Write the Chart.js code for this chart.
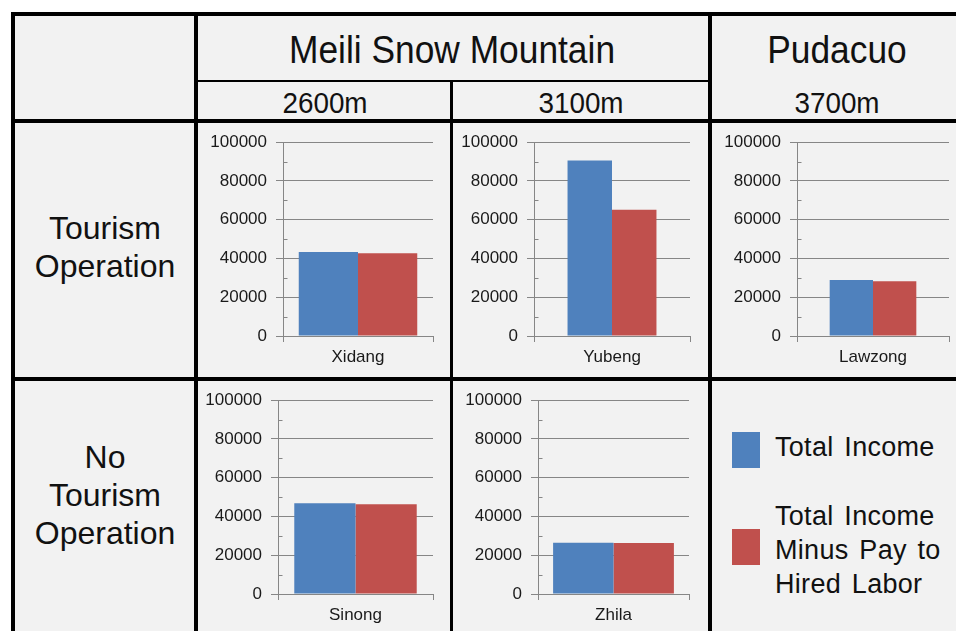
<!DOCTYPE html>
<html>
<head>
<meta charset="utf-8">
<script src="https://cdn.jsdelivr.net/npm/chart.js@4.4.1/dist/chart.umd.min.js"></script>
<style>
  html, body { margin: 0; padding: 0; background: #ffffff; }
  body { width: 956px; height: 631px; position: relative; overflow: hidden;
         font-family: 'Liberation Sans', Arial, sans-serif; color: #111; }
  .cell { position: absolute; background: #f2f2f2; }
  .rule { position: absolute; background: #000; }
  .txt { position: absolute; transform: translate(-50%, -50%); white-space: nowrap; text-align: center; }
  .txt.narrow { transform: translate(-50%, -50%) scaleX(0.93); }
  .txt.semi { transform: translate(-50%, -50%) scaleX(0.96); }
  .legend-row { position: absolute; left: 732px; display: flex; align-items: center; }
  .legend-text { position: absolute; left: 775px; transform: translateY(-50%); font-size: 27px; line-height: 34px;
                 letter-spacing: 0.3px; word-spacing: 3px; white-space: nowrap; }
  canvas { position: absolute; }
</style>
</head>
<body>
<div id="grid"></div>
<script>
// ---- data ----
const mountains = ['Meili Snow Mountain', 'Pudacuo'];
const altitudes = ['2600m', '3100m', '3700m'];
const rowLabels = [['Tourism', 'Operation'], ['No', 'Tourism', 'Operation']];
const villages = ['Xidang', 'Yubeng', 'Lawzong', 'Sinong', 'Zhila'];
const totalIncome = [43400, 90600, 28900, 46800, 26400];
const incomeMinusHiredLabor = [42700, 65200, 28200, 46300, 26300];
const seriesNames = ['Total Income', 'Total Income Minus Pay to Hired Labor'];
const legendLines = [['Total Income'], ['Total Income', 'Minus Pay to', 'Hired Labor']];
const yMax = 100000;
const yStep = 20000;
const yMinorStep = 10000;

const seriesColors = ['#4f81bd', '#c0504d'];
const gridGray = '#868686';

// ---- table frame ----
const root = document.getElementById('grid');
function box(cls, l, t, w, h, bg) {
  const d = document.createElement('div');
  d.className = cls;
  Object.assign(d.style, { left: l + 'px', top: t + 'px', width: w + 'px', height: h + 'px' });
  if (bg) d.style.background = bg;
  root.appendChild(d);
  return d;
}
function text(str, cx, cy, size, lineH, cls) {
  const d = document.createElement('div');
  d.className = 'txt' + (cls ? ' ' + cls : '');
  d.style.left = cx + 'px';
  d.style.top = cy + 'px';
  d.style.fontSize = size + 'px';
  d.style.lineHeight = (lineH || size * 1.2) + 'px';
  d.innerHTML = Array.isArray(str) ? str.join('<br>') : str;
  root.appendChild(d);
  return d;
}

// cell fill
box('cell', 15, 16, 960, 640);
// outer frame (left + top)
box('rule', 11, 12, 4, 640);
box('rule', 11, 12, 960, 4);
// column dividers
box('rule', 194, 12, 4, 640);
box('rule', 450, 81, 3, 560);
box('rule', 708, 12, 4, 640);
// row dividers
box('rule', 198, 80, 510, 2);
box('rule', 11, 119, 960, 4);
box('rule', 11, 377, 960, 4);

// header text (slightly condensed)
text(mountains[0], 452, 50, 38, 44, 'narrow');
text(mountains[1], 837, 50, 38, 44, 'narrow');
text(altitudes[0], 325, 103, 29, 34, 'semi');
text(altitudes[1], 581, 103, 29, 34, 'semi');
text(altitudes[2], 837, 103, 29, 34, 'semi');

// row headers
text(rowLabels[0], 105, 247, 32, 38);
text(rowLabels[1], 105, 495, 32, 38);

// legend
[[450, 447], [547, 550]].forEach(([swatchY, textY], i) => {
  const s = box('legend-row', 732, swatchY - 18, 28, 36);
  s.style.background = seriesColors[i];
  const t = document.createElement('div');
  t.className = 'legend-text';
  t.style.top = textY + 'px';
  t.innerHTML = legendLines[i].join('<br>');
  t.title = seriesNames[i];
  root.appendChild(t);
});

// ---- small bar charts ----
// minor tick marks on the inner side of the value axis
const minorTicks = {
  id: 'minorTicks',
  afterDraw(chart) {
    const y = chart.scales.y;
    const ctx = chart.ctx;
    const x0 = Math.round(chart.chartArea.left) + 0.5;
    ctx.save();
    ctx.strokeStyle = gridGray;
    ctx.lineWidth = 1;
    ctx.beginPath();
    for (let v = yMinorStep; v < yMax; v += yStep) {
      const py = Math.round(y.getPixelForValue(v)) + 0.5;
      ctx.moveTo(x0, py);
      ctx.lineTo(x0 + 4, py);
    }
    ctx.stroke();
    ctx.restore();
  }
};

const panels = [
  { box: [198, 123, 450, 377], plot: [283, 140, 433, 336], cat: 0.79 },
  { box: [453, 123, 708, 377], plot: [534, 140, 690, 336], cat: 0.57 },
  { box: [712, 123, 956, 377], plot: [797, 140, 949, 336], cat: 0.57 },
  { box: [198, 381, 450, 631], plot: [278, 398, 433, 594], cat: 0.79 },
  { box: [453, 381, 708, 631], plot: [538, 398, 689, 594], cat: 0.80 }
];

const tickFont = { family: "'Liberation Sans', Arial, sans-serif", size: 17 };

panels.forEach((p, i) => {
  const [bl, bt, br, bb] = p.box;
  const [pl, pt, pr, pb] = p.plot;
  const cv = document.createElement('canvas');
  cv.width = br - bl;
  cv.height = bb - bt;
  cv.style.left = bl + 'px';
  cv.style.top = bt + 'px';
  cv.style.width = (br - bl) + 'px';
  cv.style.height = (bb - bt) + 'px';
  root.appendChild(cv);

  new Chart(cv, {
    type: 'bar',
    data: {
      labels: [villages[i]],
      datasets: [
        { label: seriesNames[0], data: [totalIncome[i]], backgroundColor: seriesColors[0] },
        { label: seriesNames[1], data: [incomeMinusHiredLabor[i]], backgroundColor: seriesColors[1] }
      ]
    },
    options: {
      responsive: false,
      animation: false,
      devicePixelRatio: 1,
      layout: { padding: { left: 0, top: pt - bt, right: br - pr, bottom: 0 } },
      datasets: { bar: { barPercentage: 1, categoryPercentage: p.cat } },
      plugins: { legend: { display: false }, tooltip: { enabled: false } },
      scales: {
        x: {
          offset: true,
          grid: { display: true, offset: true, drawOnChartArea: false, drawTicks: true, tickLength: 6, color: gridGray },
          border: { display: true, color: gridGray, width: 1 },
          ticks: { color: '#1a1a1a', font: tickFont, padding: 5, maxRotation: 0 },
          afterFit(s) { s.height = bb - pb; }
        },
        y: {
          min: 0,
          max: yMax,
          grid: { color: gridGray, lineWidth: 1, drawTicks: true, tickLength: 7 },
          border: { display: true, color: gridGray, width: 1 },
          ticks: { stepSize: yStep, color: '#1a1a1a', font: tickFont, padding: 9,
                   callback: (v) => String(v) },
          afterFit(s) { s.width = pl - bl; }
        }
      }
    },
    plugins: [minorTicks]
  });
});
</script>
</body>
</html>
